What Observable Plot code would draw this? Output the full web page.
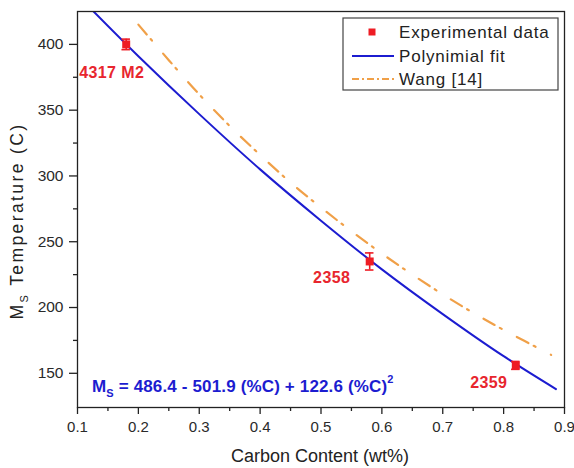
<!DOCTYPE html>
<html><head><meta charset="utf-8">
<script src="https://cdn.jsdelivr.net/npm/d3@7"></script>
<script src="https://cdn.jsdelivr.net/npm/@observablehq/plot@0.6"></script>
<style>
html,body{margin:0;padding:0;background:#fff;}
svg text{font-family:"Liberation Sans",Arial,sans-serif;}
</style></head><body><div id="chart"></div>
<script>
const xMajor = [0.1, 0.2, 0.3, 0.4, 0.5, 0.6, 0.7, 0.8, 0.9];
const xMinor = [0.15, 0.25, 0.35, 0.45, 0.55, 0.65, 0.75, 0.85];
const yMajor = [150, 200, 250, 300, 350, 400];
const yMinor = [175, 225, 275, 325, 375];

const expCarbon = [0.18, 0.58, 0.82];
const expMs = [400, 235, 156];
const expErr = [4, 6.5, 3];
const expLabels = ["4317 M2", "2358", "2359"];

const fitCarbon = [0.12, 0.2, 0.3, 0.4, 0.5, 0.6, 0.7, 0.8, 0.886];
const fitMs = [428, 391, 347, 305, 266, 229, 195, 163, 138];

const wangCarbon = [0.2, 0.25, 0.3, 0.35, 0.4, 0.45, 0.5, 0.55, 0.6, 0.65, 0.7, 0.75, 0.8, 0.878];
const wangMs = [415, 388, 362, 338, 316, 295, 276, 258, 241, 225, 210, 196, 183, 164];

const exp = expCarbon.map((c, i) => ({c, ms: expMs[i], err: expErr[i], label: expLabels[i]}));
const fit = fitCarbon.map((c, i) => ({c, ms: fitMs[i]}));
const wang = wangCarbon.map((c, i) => ({c, ms: wangMs[i]}));

const RED = "#ee1c24", BLUE = "#1c1cd0", ORANGE = "#f0a048", INK = "#222";
const labelStyle = {fill: "#e8262e", fontWeight: "bold", fontSize: 16};

const plot = Plot.plot({
  width: 574, height: 468,
  marginLeft: 77, marginRight: 10, marginTop: 11, marginBottom: 61,
  style: {fontFamily: "Liberation Sans, Arial, sans-serif", fontSize: "15px", background: "white", color: INK},
  x: {domain: [0.1, 0.9]},
  y: {domain: [124, 425]},
  marks: [
    Plot.axisX(xMajor, {tickSize: 7, tickPadding: 7, tickFormat: d => d.toFixed(1), label: null, strokeWidth: 1.3}),
    Plot.axisX(xMinor, {tickSize: 4, tickFormat: () => "", label: null, strokeWidth: 1.3}),
    Plot.axisY(yMajor, {tickSize: 8, tickPadding: 6, label: null, strokeWidth: 1.3}),
    Plot.axisY(yMinor, {tickSize: 4, tickFormat: () => "", label: null, strokeWidth: 1.3}),
    Plot.line(fit, {x: "c", y: "ms", stroke: BLUE, strokeWidth: 2, curve: "catmull-rom", clip: true}),
    Plot.line(wang, {x: "c", y: "ms", stroke: ORANGE, strokeWidth: 2.2, strokeDasharray: "13,6,2,17", curve: "catmull-rom"}),
    Plot.ruleX(exp, {x: "c", y1: d => d.ms - d.err, y2: d => d.ms + d.err, stroke: RED, strokeWidth: 1.6}),
    Plot.ruleY(exp, {y: d => d.ms - d.err, x1: d => d.c - 0.007, x2: d => d.c + 0.007, stroke: RED, strokeWidth: 1.6}),
    Plot.ruleY(exp, {y: d => d.ms + d.err, x1: d => d.c - 0.007, x2: d => d.c + 0.007, stroke: RED, strokeWidth: 1.6}),
    Plot.dot(exp, {x: "c", y: "ms", symbol: "square", r: 4.5, fill: RED, stroke: null}),
    Plot.text(exp.slice(0, 1), {x: "c", y: "ms", text: "label", textAnchor: "start", dx: -47, dy: 28, ...labelStyle}),
    Plot.text(exp.slice(1, 2), {x: "c", y: "ms", text: "label", dx: -38, dy: 16, ...labelStyle}),
    Plot.text(exp.slice(2, 3), {x: "c", y: "ms", text: "label", dx: -27, dy: 17, ...labelStyle}),
    Plot.frame({stroke: INK, strokeWidth: 1.3})
  ]
});

document.getElementById("chart").appendChild(plot);
const svg = d3.select(plot);
svg.selectAll('g[aria-label="x-axis tick label"]')
  .attr("font-size", null).style("font-size", "15px").attr("fill", "#2a2a2a");
svg.selectAll('g[aria-label="y-axis tick label"]')
  .attr("font-size", null).style("font-size", "15.5px").attr("fill", "#2a2a2a");
svg.selectAll('g[aria-label="text"]').style("letter-spacing", "0.4px");

// y axis label with subscript
const yl = svg.append("text")
  .attr("transform", "translate(23,221) rotate(-90)")
  .attr("text-anchor", "middle").attr("fill", INK)
  .style("font-size", "17.5px").style("letter-spacing", "2.4px");
yl.append("tspan").text("M");
yl.append("tspan").attr("dy", 5).style("font-size", "11px").text("S");
yl.append("tspan").attr("dy", -5).text(" Temperature (C)");

// x axis label
svg.append("text").attr("x", 320).attr("y", 462).attr("text-anchor", "middle")
  .attr("fill", INK).style("font-size", "18px").text("Carbon Content (wt%)");

// equation
const eq = svg.append("text").attr("x", 92).attr("y", 392).attr("fill", BLUE)
  .attr("text-anchor", "start")
  .style("font-size", "17px").style("font-weight", "bold").style("letter-spacing", "0.15px");
eq.append("tspan").text("M");
eq.append("tspan").attr("dy", 5).style("font-size", "11px").text("S");
eq.append("tspan").attr("dy", -5).text(" = 486.4 - 501.9 (%C) + 122.6 (%C)");
eq.append("tspan").attr("dy", -9).style("font-size", "11px").text("2");

// legend
const lg = svg.append("g").attr("text-anchor", "start");
lg.append("rect").attr("x", 343).attr("y", 18).attr("width", 215).attr("height", 72)
  .attr("fill", "white").attr("stroke", "#444").attr("stroke-width", 1.2);
lg.append("rect").attr("x", 368.5).attr("y", 28.5).attr("width", 7).attr("height", 7).attr("fill", RED);
lg.append("line").attr("x1", 352).attr("x2", 394).attr("y1", 56).attr("y2", 56)
  .attr("stroke", BLUE).attr("stroke-width", 2);
lg.append("line").attr("x1", 352).attr("x2", 394).attr("y1", 79).attr("y2", 79)
  .attr("stroke", ORANGE).attr("stroke-width", 2).attr("stroke-dasharray", "7,3,2,3");
[["Experimental data", 38], ["Polynimial fit", 62], ["Wang [14]", 85]].forEach(([t, y]) => {
  lg.append("text").attr("x", 399).attr("y", y).attr("text-anchor", "start")
    .attr("fill", INK).style("font-size", "17px").style("letter-spacing", "0.8px").text(t);
});
</script></body></html>
